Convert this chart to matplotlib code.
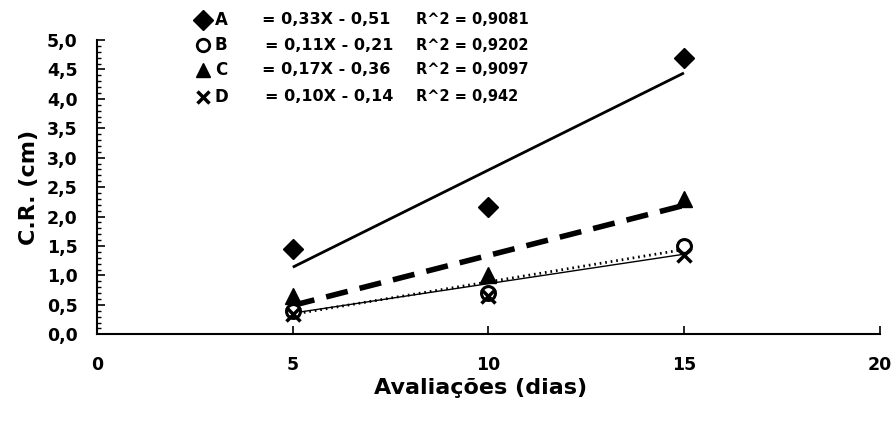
import matplotlib
matplotlib.use('Agg')
import matplotlib.pyplot as plt
import numpy as np
from matplotlib.ticker import FuncFormatter, MultipleLocator

plt.rcParams['font.family'] = ['DejaVu Sans']
plt.rcParams['font.weight'] = 'bold'

dias = [5, 10, 15]
serie_a = [1.45, 2.17, 4.70]
serie_b = [0.40, 0.70, 1.50]
serie_c = [0.65, 1.00, 2.30]
serie_d = [0.35, 0.65, 1.35]

# trend coefficients (slope, intercept, r2) as printed in the legend
coef_a = (0.33, -0.51, '0,9081')
coef_b = (0.11, -0.21, '0,9202')
coef_c = (0.17, -0.36, '0,9097')
coef_d = (0.10, -0.14, '0,942')

fig = plt.figure(figsize=(8.92, 4.21), dpi=100)
ax = fig.add_axes([0.109, 0.206, 0.877, 0.699])

xs = np.array([dias[0], dias[-1]])
ax.plot(xs, coef_a[0] * xs + coef_a[1], color='black', lw=2.0, solid_capstyle='butt')
ax.plot(xs, coef_c[0] * xs + coef_c[1], color='black', lw=4.0, dashes=(4, 2.2))
ax.plot(xs, coef_b[0] * xs + coef_b[1], color='black', lw=2.0, linestyle=(0, (0.6, 1.4)))
ax.plot(xs, coef_d[0] * xs + coef_d[1], color='black', lw=1.0)

ax.plot(dias, serie_a, 'D', color='black', ms=10, ls='none')
ax.plot(dias, serie_c, '^', color='black', ms=11, ls='none')
ax.plot(dias, serie_b, 'o', mfc='white', mec='black', mew=2.2, ms=10, ls='none')
ax.plot(dias, serie_d, 'x', color='black', mew=2.5, ms=10, ls='none')

ax.set_xlim(0, 20)
ax.set_ylim(0, 5)
ax.set_xticks([0, 5, 10, 15, 20])
ax.yaxis.set_major_locator(MultipleLocator(0.5))
ax.yaxis.set_minor_locator(MultipleLocator(0.1))
ax.yaxis.set_major_formatter(FuncFormatter(lambda v, p: f'{v:.1f}'.replace('.', ',')))
ax.tick_params(axis='both', which='major', direction='in', length=6, width=1.2, labelsize=12.5)
ax.tick_params(axis='y', which='minor', direction='in', length=3, width=1)
ax.tick_params(axis='x', pad=16)
ax.tick_params(axis='y', pad=14)
ax.spines['top'].set_visible(False)
ax.spines['right'].set_visible(False)
ax.spines['left'].set_linewidth(1.5)
ax.spines['bottom'].set_linewidth(1.5)

ax.set_xlabel('Avaliações (dias)', fontsize=16, fontweight='bold')
ax.xaxis.set_label_coords(0.49, -0.15, transform=ax.transAxes)
ax.xaxis.label.set_va('top')
ax.set_ylabel('C.R. (cm)', fontsize=16, fontweight='bold', labelpad=6)

# legend block at the top
rows = [('A', 'D', coef_a, 0.953, 0.294), ('B', 'o', coef_b, 0.893, 0.297),
        ('C', '^', coef_c, 0.834, 0.294), ('D', 'x', coef_d, 0.770, 0.297)]
for letra, mk, coef, y, xe in rows:
    if mk == 'o':
        fig.add_artist(plt.Line2D([0.228], [y], marker='o', mfc='white', mec='black', mew=2, ms=9,
                                  transform=fig.transFigure))
    elif mk == 'x':
        fig.add_artist(plt.Line2D([0.228], [y], marker='x', color='black', mew=2.5, ms=9,
                                  transform=fig.transFigure))
    else:
        fig.add_artist(plt.Line2D([0.228], [y], marker=mk, color='black', ms=10,
                                  transform=fig.transFigure))
    fig.text(0.241, y, letra, fontsize=12, fontweight='bold', va='center')
    eq = f'= {coef[0]:.2f}X - {abs(coef[1]):.2f}'.replace('.', ',')
    fig.text(xe, y, eq, fontsize=11.5, fontweight='bold', va='center')
    fig.text(0.466, y, f'R^2 = {coef[2]}', fontsize=10.5, fontweight='bold', va='center')

fig.savefig('out.png', dpi=100)
